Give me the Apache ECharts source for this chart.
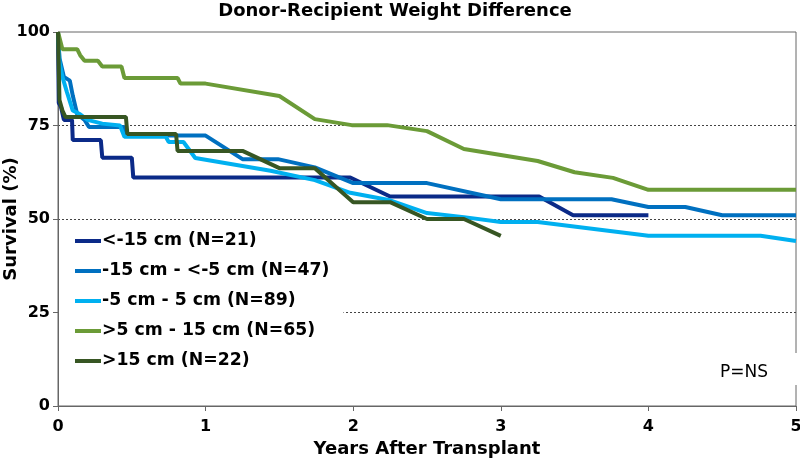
<!DOCTYPE html>
<html>
<head>
<meta charset="utf-8">
<script src="https://cdn.jsdelivr.net/npm/echarts@6/dist/echarts.min.js"></script>
<style>
  html, body { margin: 0; padding: 0; background: #fff; }
  #chart { width: 800px; height: 460px; }
</style>
</head>
<body>
<div id="chart"></div>
<script>
// survival curves, [years, survival %]
const seriesNames = ['<-15 cm (N=21)', '-15 cm - <-5 cm (N=47)', '-5 cm - 5 cm (N=89)', '>5 cm - 15 cm (N=65)', '>15 cm (N=22)']
const colors = ['#0b2a88', '#0070c0', '#00b0f0', '#6b9b37', '#375623']

const under15 = [[0, 100], [0.005, 81], [0.02, 80], [0.04, 76.5], [0.095, 76.5], [0.1, 71.1], [0.29, 71.1], [0.3, 66.4], [0.5, 66.4], [0.51, 61.1],
  [1.98, 61.1], [2.25, 56], [3.26, 56], [3.49, 51], [4.0, 51]]
const from15to5 = [[0, 100], [0.01, 93], [0.04, 88], [0.08, 87], [0.1, 83], [0.13, 78], [0.18, 76.5], [0.21, 74.6], [0.45, 74.6], [0.46, 72.3],
  [1.0, 72.3], [1.25, 66], [1.49, 66], [1.74, 63.8], [2.0, 59.6], [2.5, 59.6], [3.0, 55.3], [3.75, 55.3], [4.0, 53.2], [4.25, 53.2], [4.5, 51], [5, 51]]
const from5to5 = [[0, 100], [0.01, 92], [0.03, 88], [0.06, 84], [0.1, 79], [0.15, 78], [0.2, 76.5], [0.3, 75.5], [0.42, 75], [0.45, 72],
  [0.73, 72], [0.75, 70.6], [0.85, 70.6], [0.93, 66.3], [1.44, 62.9], [1.74, 60.4], [1.98, 57], [2.25, 55], [2.5, 51.6], [2.75, 50.5],
  [3.0, 49.2], [3.25, 49.2], [4.0, 45.5], [4.76, 45.5], [5.0, 44.1]]
const from5to15 = [[0, 100], [0.03, 95.4], [0.13, 95.4], [0.15, 93.8], [0.18, 92.3], [0.27, 92.3], [0.3, 90.8], [0.43, 90.8], [0.45, 87.7],
  [0.81, 87.7], [0.83, 86.2], [1.0, 86.2], [1.5, 82.9], [1.74, 76.7], [1.99, 75.1], [2.23, 75.1], [2.5, 73.5], [2.75, 68.7], [3.25, 65.5],
  [3.5, 62.5], [3.76, 61], [4.0, 57.8], [5, 57.8]]
const over15 = [[0, 100], [0.01, 81.8], [0.03, 79], [0.05, 77.3], [0.46, 77.3], [0.47, 72.7], [0.8, 72.7], [0.81, 68.2], [1.25, 68.2],
  [1.5, 63.6], [1.74, 63.6], [2.0, 54.5], [2.25, 54.5], [2.5, 50], [2.75, 50], [3.0, 45.5]]

const curves = [under15, from15to5, from5to5, from5to15, over15]

const yTicks = [0, 25, 50, 75, 100]

const font = 'DejaVu Sans'

const chart = echarts.init(document.getElementById('chart'))

const series = curves.map((d, i) => {
  return {
    name: seriesNames[i],
    type: 'line',
    data: d,
    showSymbol: false,
    symbol: 'none',
    lineStyle: { width: 4, color: colors[i] },
    itemStyle: { color: colors[i] },
  }
})

const option = {
  animation: false,
  title: {
    text: 'Donor-Recipient Weight Difference',
    left: 390,
    textAlign: 'center',
    top: -3,
    textStyle: { fontFamily: font, fontWeight: 'bold', fontSize: 18, color: '#000' },
  },
  grid: {
    left: 58,
    right: 4,
    top: 32,
    bottom: 54,
    outerBoundsMode: 'none',
    show: true,
    borderColor: '#666',
    borderWidth: 1,
  },
  legend: {
    orient: 'vertical',
    left: 59,
    top: 225,
    padding: [5, 14, 5, 16],
    backgroundColor: '#fff',
    itemWidth: 26,
    itemHeight: 4,
    itemGap: 8,
    icon: 'rect',
    textStyle: { fontFamily: font, fontWeight: 'bold', fontSize: 17.3, color: '#000', lineHeight: 22, padding: [0, 0, 0, -4] },
    data: seriesNames,
    z: 10,
  },
  xAxis: {
    type: 'value',
    min: 0,
    max: 5,
    interval: 1,
    name: 'Years After Transplant',
    nameLocation: 'middle',
    nameGap: 34,
    nameMoveOverlap: false,
    nameTextStyle: { fontFamily: font, fontWeight: 'bold', fontSize: 18, color: '#000' },
    axisLine: { lineStyle: { color: '#666' } },
    axisTick: { show: true, length: 5, lineStyle: { color: '#666' } },
    axisLabel: { fontFamily: font, fontWeight: 'bold', fontSize: 16, color: '#000', margin: 13 },
    splitLine: { show: false },
  },
  yAxis: {
    type: 'value',
    min: yTicks[0],
    max: yTicks[yTicks.length - 1],
    interval: 25,
    name: 'Survival (%)',
    nameLocation: 'middle',
    nameGap: 38,
    nameRotate: 90,
    nameMoveOverlap: false,
    nameTextStyle: { fontFamily: font, fontWeight: 'bold', fontSize: 18, color: '#000' },
    axisLine: { show: true, lineStyle: { color: '#666' } },
    axisTick: { show: true, length: 5, lineStyle: { color: '#666' } },
    axisLabel: { fontFamily: font, fontWeight: 'bold', fontSize: 16, color: '#000', margin: 8 },
    splitLine: { show: true, showMinLine: false, showMaxLine: false, lineStyle: { type: [2, 2], color: '#444', width: 1 } },
  },
  graphic: [
    {
      type: 'rect',
      left: 700,
      top: 353,
      z: 100,
      shape: { width: 100, height: 32 },
      style: { fill: '#fff' },
    },
    {
      type: 'text',
      left: 720,
      top: 364,
      z: 101,
      style: {
        text: 'P=NS',
        fontFamily: font,
        fontSize: 17,
        fill: '#000',
      },
    },
  ],
  series: series,
}

chart.setOption(option)
</script>
</body>
</html>
